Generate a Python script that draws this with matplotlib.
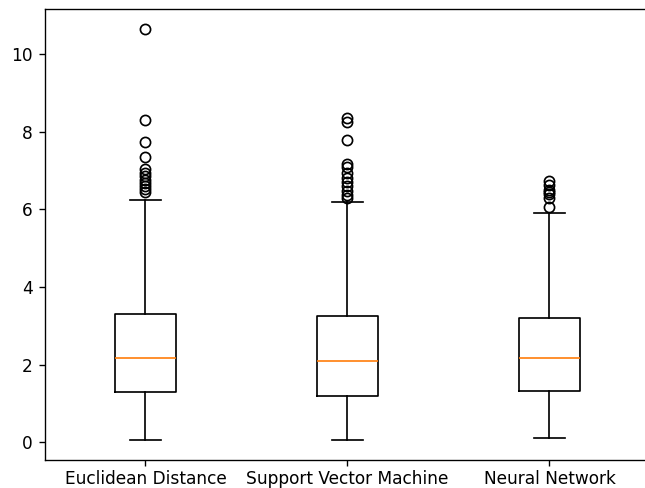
import matplotlib
matplotlib.use("Agg")
import matplotlib.pyplot as plt

labels = ["Euclidean Distance", "Support Vector Machine", "Neural Network"]
q1 = [1.29, 1.20, 1.33]
medians = [2.16, 2.08, 2.16]
q3 = [3.29, 3.24, 3.21]
whislo = [0.06, 0.06, 0.10]
whishi = [6.25, 6.20, 5.90]
fliers = [
    [6.45, 6.52, 6.60, 6.68, 6.75, 6.85, 6.95, 7.05, 7.34, 7.74, 8.30, 10.65],
    [6.30, 6.38, 6.48, 6.60, 6.70, 6.82, 6.95, 7.10, 7.18, 7.80, 8.26, 8.36],
    [6.07, 6.30, 6.40, 6.45, 6.50, 6.62, 6.73],
]

stats = []
for i, name in enumerate(labels):
    stats.append({
        "label": name,
        "q1": q1[i],
        "med": medians[i],
        "q3": q3[i],
        "whislo": whislo[i],
        "whishi": whishi[i],
        "fliers": fliers[i],
    })

# reference looks like a default figure rendered a bit larger, then cropped on the right
dpi = 122
fig = plt.figure(figsize=(645 / dpi, 488 / dpi), dpi=dpi)
ax = fig.add_axes([44.5 / 645, 27.7 / 488, 606 / 645, 451.8 / 488])
ax.bxp(stats, widths=0.3)
ax.tick_params(axis="x", pad=2.5)
fig.savefig("out.png", dpi=dpi)
